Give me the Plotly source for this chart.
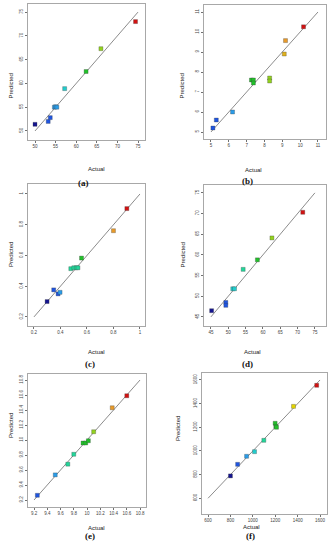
import plotly.graph_objects as go

# ---------------- data ----------------
a_actual = [50.0, 53.2, 53.7, 54.7, 55.0, 55.3, 57.2, 62.4, 66.0, 74.4]
a_pred   = [51.4, 52.0, 52.8, 55.0, 55.1, 55.0, 58.9, 62.5, 67.3, 73.0]

b_actual = [5.11, 5.30, 6.21, 7.27, 7.38, 7.38, 8.29, 8.29, 9.11, 9.18, 10.19]
b_pred   = [5.20, 5.60, 6.00, 7.60, 7.60, 7.45, 7.70, 7.55, 8.90, 9.57, 10.26]

c_actual = [0.299, 0.349, 0.382, 0.397, 0.478, 0.501, 0.519, 0.532, 0.559, 0.800, 0.901]
c_pred   = [0.300, 0.376, 0.350, 0.360, 0.514, 0.520, 0.520, 0.520, 0.583, 0.761, 0.905]

d_actual = [45.2, 49.3, 49.3, 51.3, 51.8, 54.3, 58.4, 62.6, 71.5]
d_pred   = [46.5, 48.5, 47.8, 51.8, 51.8, 56.5, 58.8, 64.1, 70.3]

e_actual = [9.25, 9.52, 9.71, 9.80, 9.94, 9.98, 10.02, 10.10, 10.38, 10.60]
e_pred   = [9.263, 9.535, 9.678, 9.81, 9.96, 9.96, 9.99, 10.11, 10.43, 10.59]

f_actual = [800, 864, 944, 1015, 1098, 1199, 1205, 1211, 1363, 1570]
f_pred   = [789, 887, 955, 994, 1090, 1234, 1208, 1200, 1377, 1555]

# diagonal (y = x) end values and tick values per panel
a_diag = [50, 75]; a_ticks = [50, 55, 60, 65, 70, 75]
b_diag = [5, 11];  b_ticks = [5, 6, 7, 8, 9, 10, 11]
c_diag = [0.2, 1]; c_ticks = [0.2, 0.4, 0.6, 0.8, 1]
d_diag = [45, 75]; d_ticks = [45, 50, 55, 60, 65, 70, 75]
e_diag = [9.2, 10.8]; e_ticks = [9.2, 9.4, 9.6, 9.8, 10, 10.2, 10.4, 10.6, 10.8]
f_diag = [600, 1600]; f_ticks = [600, 800, 1000, 1200, 1400, 1600]

labels = ["(a)", "(b)", "(c)", "(d)", "(e)", "(f)"]

# ---------------- styles ----------------
DB = "#15158f"; B = "#1f55e0"; LB = "#2a9ce8"; CY = "#22cccc"; TL = "#22d69a"
G = "#22c02a"; YG = "#92d21e"; Y = "#e2d400"; GO = "#e0b21e"; O = "#e89a2a"; R = "#d21212"

a_col = [DB, B, B, LB, LB, LB, CY, G, YG, R]
b_col = [B, B, LB, G, G, G, YG, YG, GO, O, R]
c_col = [DB, B, B, LB, TL, TL, TL, TL, G, O, R]
d_col = [DB, B, B, CY, CY, TL, G, YG, R]
e_col = [B, LB, TL, TL, G, G, G, YG, O, R]
f_col = [DB, B, LB, CY, TL, G, G, G, Y, R]

panels = [
    dict(x=a_actual, y=a_pred, c=a_col, diag=a_diag, ticks=a_ticks,
         xdom=[28, 145], ydom=[4, 140], xr=[48.3, 76.7], yr=[48.1, 76.7],
         px=6, ax=86, ay=164, cx=76, cy=176),
    dict(x=b_actual, y=b_pred, c=b_col, diag=b_diag, ticks=b_ticks,
         xdom=[204, 326], ydom=[5, 139], xr=[4.61, 11.45], yr=[4.65, 11.35],
         px=182, ax=264, ay=165, cx=255, cy=174),
    dict(x=c_actual, y=c_pred, c=c_col, diag=c_diag, ticks=c_ticks,
         xdom=[28, 145], ydom=[184, 326], xr=[0.155, 1.038], yr=[0.141, 1.065],
         px=6, ax=86, ay=352, cx=83, cy=364),
    dict(x=d_actual, y=d_pred, c=d_col, diag=d_diag, ticks=d_ticks,
         xdom=[204, 326], ydom=[185, 326], xr=[43.0, 78.2], yr=[42.8, 76.9],
         px=182, ax=263, ay=352, cx=255, cy=364),
    dict(x=e_actual, y=e_pred, c=e_col, diag=e_diag, ticks=e_ticks,
         xdom=[28, 146], ydom=[374, 507], xr=[9.109, 10.89], yr=[9.107, 10.88],
         px=6, ax=86, ay=533, cx=83, cy=543),
    dict(x=f_actual, y=f_pred, c=f_col, diag=f_diag, ticks=f_ticks,
         xdom=[202, 327], ydom=[373, 514], xr=[546, 1662], yr=[467, 1659],
         px=178, ax=262, ay=532, cx=257, cy=543),
]

W, H = 330, 550
fig = go.Figure()
annotations = []
layout = {}
FONT = "Liberation Sans, Arial, sans-serif"

for i, p in enumerate(panels):
    n = "" if i == 0 else str(i + 1)
    xa, ya = "x" + n, "y" + n
    fig.add_trace(go.Scatter(x=p["diag"], y=p["diag"], mode="lines",
                             line=dict(color="#8c8c8c", width=1),
                             xaxis=xa, yaxis=ya, showlegend=False, hoverinfo="skip"))
    fig.add_trace(go.Scatter(x=p["x"], y=p["y"], mode="markers",
                             marker=dict(symbol="square", size=4, color=p["c"],
                                         line=dict(color="rgba(60,60,60,0.6)", width=0.5)),
                             xaxis=xa, yaxis=ya, showlegend=False))
    common = dict(showgrid=False, zeroline=False, showline=True, mirror=True,
                  linecolor="#a8a8a8", linewidth=1, ticks="outside", ticklen=2,
                  tickcolor="#707070", tickwidth=0.6,
                  tickfont=dict(size=4.5, color="#444", family=FONT),
                  tickvals=p["ticks"], ticktext=[str(t) for t in p["ticks"]])
    layout["xaxis" + n] = dict(common, domain=[p["xdom"][0] / W, p["xdom"][1] / W],
                               range=p["xr"], anchor=ya)
    layout["yaxis" + n] = dict(common, domain=[1 - p["ydom"][1] / H, 1 - p["ydom"][0] / H],
                               range=p["yr"], anchor=xa, tickangle=-90)
    yc = 1 - (p["ydom"][0] + p["ydom"][1]) / 2 / H
    annotations.append(dict(text="Actual", x=p["ax"] / W, y=1 - p["ay"] / H,
                            xref="paper", yref="paper", showarrow=False,
                            font=dict(size=6, color="#222", family=FONT)))
    annotations.append(dict(text="Predicted", x=p["px"] / W, y=yc, textangle=-90,
                            xref="paper", yref="paper", showarrow=False,
                            font=dict(size=6, color="#222", family=FONT)))
    annotations.append(dict(text="<b>" + labels[i] + "</b>", x=p["cx"] / W, y=1 - p["cy"] / H,
                            xref="paper", yref="paper", showarrow=False,
                            font=dict(size=9, color="#111",
                                      family="Liberation Serif, Times New Roman, serif")))

fig.update_layout(width=W, height=H, margin=dict(l=0, r=0, t=0, b=0),
                  paper_bgcolor="white", plot_bgcolor="white",
                  annotations=annotations, **layout)
fig.write_html("out.html", config={"displayModeBar": False},
               post_script="document.body.style.margin='0';document.body.style.padding='0';")
